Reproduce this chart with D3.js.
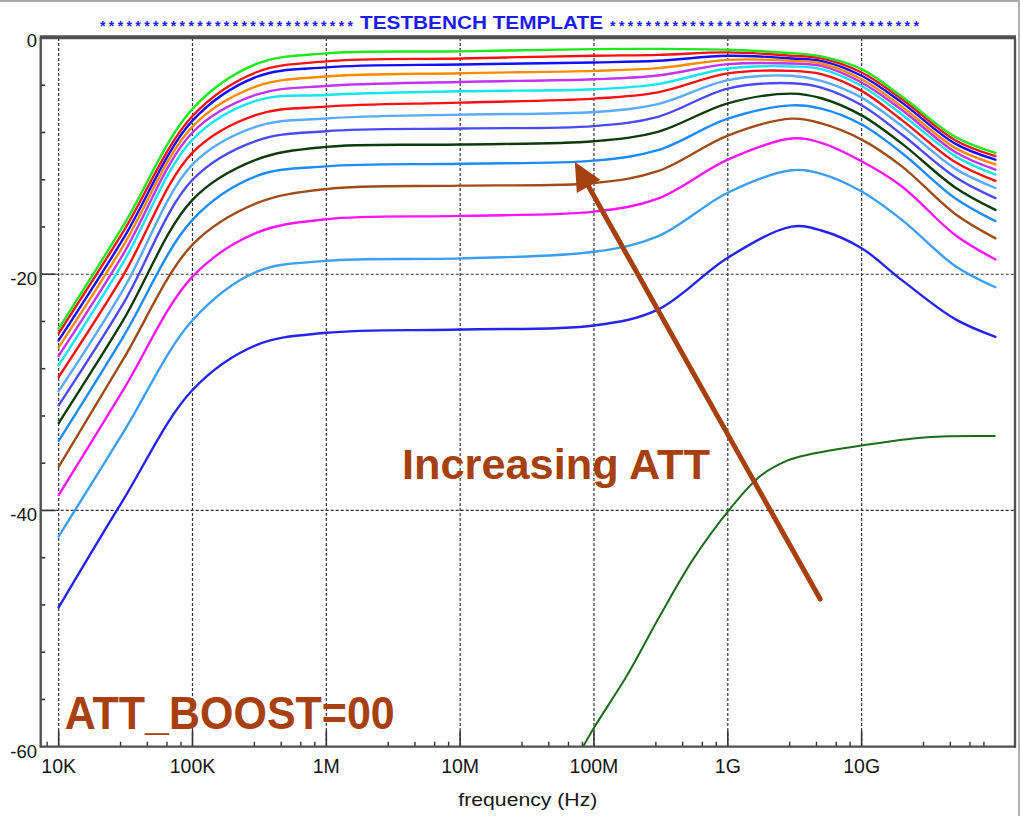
<!DOCTYPE html>
<html>
<head>
<meta charset="utf-8">
<script src="https://cdn.jsdelivr.net/npm/d3@7"></script>
<style>
  html,body{margin:0;padding:0;background:#fff;}
  svg{display:block;}
</style>
</head>
<body>
<svg id="chart" width="1020" height="816"></svg>
<script>
// ---------------- DATA ----------------
const freqs = [1e4, 3e4, 1e5, 3e5, 1e6, 1e7, 1e8, 3e8, 1e9, 3e9, 5e9, 1e10, 2e10, 5e10, 1e11];

const s01 = [-24.6, -16.0, -6.0, -2.2, -1.3, -1.13, -0.94, -0.92, -1.0, -1.28, -1.56, -2.64, -4.96, -8.37, -9.73];
const s02 = [-25.0, -16.5, -6.6, -2.9, -1.98, -1.73, -1.5, -1.43, -1.22, -1.5, -1.73, -2.92, -5.19, -8.65, -10.0];
const s03 = [-25.6, -17.1, -7.0, -3.3, -2.49, -2.24, -2.07, -1.93, -1.5, -1.73, -1.93, -3.2, -5.47, -8.94, -10.3];
const s04 = [-26.2, -17.7, -7.5, -4.1, -3.26, -2.98, -2.78, -2.55, -1.85, -1.93, -2.16, -3.49, -5.81, -9.3, -10.7];
const s05 = [-26.9, -18.4, -8.0, -4.8, -4.06, -3.72, -3.49, -3.17, -2.21, -2.16, -2.36, -3.77, -6.1, -9.65, -11.15];
const s06 = [-27.7, -19.1, -8.6, -5.3, -4.82, -4.51, -4.34, -3.9, -2.58, -2.41, -2.64, -4.06, -6.47, -10.0, -11.57];
const s07 = [-28.7, -20.2, -9.7, -6.5, -5.81, -5.47, -5.13, -4.6, -3.0, -2.78, -3.06, -4.48, -6.95, -10.5, -12.1];
const s08 = [-29.9, -21.4, -10.7, -7.5, -6.81, -6.49, -6.27, -5.6, -3.57, -3.2, -3.63, -5.05, -7.46, -11.06, -12.7];
const s09 = [-31.1, -22.6, -12.0, -8.7, -7.89, -7.66, -7.46, -6.67, -4.28, -3.83, -4.2, -5.7, -8.17, -11.77, -13.56];
const s10 = [-32.6, -24.0, -13.7, -10.3, -9.22, -9.02, -8.74, -7.94, -5.53, -4.71, -5.1, -6.55, -8.94, -12.65, -14.55];
const s11 = [-34.1, -25.4, -15.4, -11.7, -10.87, -10.64, -10.38, -9.5, -6.83, -5.7, -5.98, -7.32, -9.73, -13.56, -15.5];
const s12 = [-36.3, -27.3, -17.5, -14.0, -12.79, -12.5, -12.28, -11.28, -8.26, -6.83, -7.23, -8.6, -10.87, -14.9, -16.96];
const s13 = [-38.7, -29.9, -20.2, -16.5, -15.34, -15.06, -14.7, -13.6, -10.3, -8.51, -8.88, -10.44, -12.57, -16.68, -18.75];
const s14 = [-42.2, -33.5, -23.9, -19.8, -18.87, -18.66, -18.1, -16.8, -13.1, -11.2, -11.5, -13.0, -15.4, -19.3, -21.1];
const s15 = [-48.2, -39.2, -29.8, -26.0, -24.96, -24.68, -24.34, -23.0, -18.6, -15.97, -16.3, -17.8, -20.5, -23.8, -25.3];

// bottom (dark green) curve has its own frequency points
const freqsLow = [7e7, 1e8, 1.76e8, 3.12e8, 5.53e8, 1.05e9, 1.74e9, 2.75e9, 3.9e9, 1e10, 3.07e10, 1e11];
const s16 = [-61.5, -58.4, -54.0, -48.9, -44.1, -39.8, -37.1, -35.8, -35.3, -34.5, -33.8, -33.7];

const seriesColors = ["#1ee81e", "#ff1010", "#1010ff", "#ff8a00", "#c233f2", "#14e6ee", "#ff1010",
                      "#5aabff", "#4a4af8", "#0c3c0c", "#1a8cff", "#a04c18", "#ff14ff", "#3c9ef6", "#2424ee", "#1b6b1b"];

const xTickValues = [1e4, 1e5, 1e6, 1e7, 1e8, 1e9, 1e10];
const xTickLabels = ["10K", "100K", "1M", "10M", "100M", "1G", "10G"];
const xMinorMult = [2.9, 4.6, 6.45, 8.2];
const yTickValues = [0, -20, -40, -60];
const yTickLabels = ["0", "-20", "-40", "-60"];
const yMinorStep = 4;

const titleText = "TESTBENCH TEMPLATE";
const xAxisTitle = "frequency (Hz)";
const annotText1 = "Increasing ATT";
const annotText2 = "ATT_BOOST=00";
// annotation anchors in data units [freq, dB]
const arrowTail = [4.9e9, -47.5];
const arrowTip = [7.2e7, -10.5];
const annot1Pos = [3.68e6, -37.3];
const annot2Pos = [1.11e4, -58.5];

// ---------------- DRAW ----------------
const svg = d3.select("#chart");
const L = 40.7, R = 1015, T = 38, B = 746.7;

const x = d3.scaleLog().domain([7.34e3, 1.4e11]).range([L, R]);
const y = d3.scaleLinear().domain([0, -60]).range([T, B]);

svg.append("rect").attr("width", 1020).attr("height", 816).attr("fill", "#fff");
// outer border bits of the screenshot
svg.append("line").attr("x1", 0).attr("x2", 1020).attr("y1", 1).attr("y2", 1).attr("stroke", "#a8a8a8").attr("stroke-width", 2);
svg.append("line").attr("x1", 1019).attr("x2", 1019).attr("y1", 0).attr("y2", 816).attr("stroke", "#b0b0b0").attr("stroke-width", 2);

const grid = svg.append("g");
// vertical gridlines
grid.selectAll(".vg").data(xTickValues).enter().append("line")
  .attr("x1", d => x(d)).attr("x2", d => x(d))
  .attr("y1", T).attr("y2", B)
  .attr("stroke", "#333").attr("stroke-width", 1.2).attr("stroke-dasharray", "3,2");
// horizontal gridlines
grid.selectAll(".hg").data(yTickValues.filter(v => v !== 0 && v !== -60)).enter().append("line")
  .attr("x1", L).attr("x2", R)
  .attr("y1", d => y(d)).attr("y2", d => y(d))
  .attr("stroke", "#333").attr("stroke-width", 1.2).attr("stroke-dasharray", "3,2");

// ticks
const ticks = svg.append("g").attr("stroke", "#333");
ticks.selectAll(".xmaj").data(xTickValues).enter().append("line")
  .attr("x1", d => x(d)).attr("x2", d => x(d)).attr("y1", B).attr("y2", B - 16).attr("stroke-width", 1.6);
const xMinor = [];
for (let e = 3; e <= 10; e++) xMinorMult.forEach(m => { const v = m * Math.pow(10, e); if (v > x.domain()[0] && v < x.domain()[1]) xMinor.push(v); });
ticks.selectAll(".xmin").data(xMinor).enter().append("line")
  .attr("x1", d => x(d)).attr("x2", d => x(d)).attr("y1", B).attr("y2", B - 5).attr("stroke-width", 1.4);
ticks.selectAll(".ymaj").data(yTickValues.filter(v => v !== 0 && v !== -60)).enter().append("line")
  .attr("x1", L).attr("x2", L + 15).attr("y1", d => y(d)).attr("y2", d => y(d)).attr("stroke-width", 1.6);
const yMinor = d3.range(0, -60, -yMinorStep).filter(v => v % 20 !== 0);
ticks.selectAll(".ymin").data(yMinor).enter().append("line")
  .attr("x1", L).attr("x2", L + 4.5).attr("y1", d => y(d)).attr("y2", d => y(d)).attr("stroke-width", 1.6);

// curves
svg.append("clipPath").attr("id", "clip").append("rect")
  .attr("x", L).attr("y", T).attr("width", R - L).attr("height", B - T);
const allSeries = [s01, s02, s03, s04, s05, s06, s07, s08, s09, s10, s11, s12, s13, s14, s15];
const line = d3.line().x(d => x(d[0])).y(d => y(d[1])).curve(d3.curveCatmullRom.alpha(0.5));
const curves = svg.append("g").attr("clip-path", "url(#clip)").attr("fill", "none");
curves.append("path")
  .attr("d", line(freqsLow.map((f, i) => [f, s16[i]])))
  .attr("stroke", seriesColors[15]).attr("stroke-width", 2);
for (let k = allSeries.length - 1; k >= 0; k--) {
  curves.append("path")
    .attr("d", line(freqs.map((f, i) => [f, allSeries[k][i]])))
    .attr("stroke", seriesColors[k]).attr("stroke-width", 2.4)
    .attr("stroke-linejoin", "round").attr("stroke-linecap", "round");
}

// frame
const frame = svg.append("g").attr("stroke", "#505050");
frame.append("line").attr("x1", L - 1).attr("x2", R + 1).attr("y1", T - 0.7).attr("y2", T - 0.7).attr("stroke-width", 4);
frame.append("line").attr("x1", L).attr("x2", L).attr("y1", T).attr("y2", B + 1).attr("stroke-width", 2.4);
frame.append("line").attr("x1", L).attr("x2", R + 1).attr("y1", B).attr("y2", B).attr("stroke-width", 2.2);
frame.append("line").attr("x1", R).attr("x2", R).attr("y1", T).attr("y2", B + 1).attr("stroke-width", 2.4);

// tick labels
const font = "'Liberation Sans', Arial, Helvetica, sans-serif";
svg.selectAll(".xl").data(xTickValues).enter().append("text")
  .attr("x", d => x(d)).attr("y", B + 26.5)
  .attr("text-anchor", "middle").attr("font-family", font).attr("font-size", 19.5)
  .attr("fill", "#141414").text((d, i) => xTickLabels[i]);
svg.selectAll(".yl").data(yTickValues).enter().append("text")
  .attr("x", 37).attr("y", d => y(d) + (d === 0 ? 8.5 : 11))
  .attr("text-anchor", "end").attr("font-family", font).attr("font-size", 18.5)
  .attr("fill", "#141414").text((d, i) => yTickLabels[i]);

// x axis title
svg.append("text").attr("x", (L + R) / 2 + 0).attr("y", 806)
  .attr("text-anchor", "middle").attr("font-family", font).attr("font-size", 19)
  .attr("fill", "#141414").attr("textLength", 139).attr("lengthAdjust", "spacingAndGlyphs").text(xAxisTitle);

// title
const tg = svg.append("g").attr("fill", "#1c1cf0").attr("font-family", font).attr("font-weight", "bold");
tg.append("text").attr("x", 481.5).attr("y", 29).attr("text-anchor", "middle").attr("font-size", 19)
  .attr("textLength", 243).attr("lengthAdjust", "spacingAndGlyphs").text(titleText);
const starsL = "*".repeat(29), starsR = "*".repeat(35);
tg.append("text").attr("x", 100).attr("y", 31).attr("font-size", 14)
  .attr("textLength", 253).attr("lengthAdjust", "spacing").text(starsL);
tg.append("text").attr("x", 610).attr("y", 31).attr("font-size", 14)
  .attr("textLength", 309).attr("lengthAdjust", "spacing").text(starsR);

// annotations
const brown = "#a6400e";
const ax1 = x(arrowTail[0]), ay1 = y(arrowTail[1]), ax2 = x(arrowTip[0]), ay2 = y(arrowTip[1]);
const ang = Math.atan2(ay2 - ay1, ax2 - ax1);
const headLen = 28, headHalf = 13.5;
const bx = ax2 - headLen * Math.cos(ang), by = ay2 - headLen * Math.sin(ang);
svg.append("line").attr("x1", ax1).attr("y1", ay1).attr("x2", bx).attr("y2", by)
  .attr("stroke", brown).attr("stroke-width", 5).attr("stroke-linecap", "round");
svg.append("path")
  .attr("d", `M${ax2},${ay2} L${bx + headHalf * Math.sin(ang)},${by - headHalf * Math.cos(ang)} L${bx - headHalf * Math.sin(ang)},${by + headHalf * Math.cos(ang)} Z`)
  .attr("fill", brown);

svg.append("text").attr("x", x(annot1Pos[0])).attr("y", y(annot1Pos[1]))
  .attr("font-family", font).attr("font-weight", "bold").attr("font-size", 43)
  .attr("fill", brown).attr("textLength", 308).attr("lengthAdjust", "spacingAndGlyphs").text(annotText1);
svg.append("text").attr("x", x(annot2Pos[0])).attr("y", y(annot2Pos[1]))
  .attr("font-family", font).attr("font-weight", "bold").attr("font-size", 47)
  .attr("fill", brown).attr("textLength", 330).attr("lengthAdjust", "spacingAndGlyphs").text(annotText2);
</script>
</body>
</html>
